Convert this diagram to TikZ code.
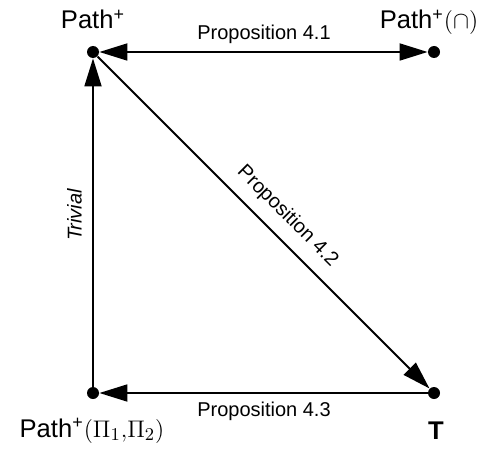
\documentclass[tikz,border=0pt]{standalone}
\usepackage{fontspec}
\setmainfont{Liberation Sans}
\usetikzlibrary{arrows.meta}
\begin{document}
\begin{tikzpicture}[x=0.5pt,y=-0.5pt,
  dot/.style={circle,fill=black,inner sep=0pt,minimum size=6pt},
  edge/.style={line width=0.9pt,-{Triangle[length=14pt,width=8.5pt]}},
  biedge/.style={line width=0.9pt,{Triangle[length=14pt,width=8.5pt]}-{Triangle[length=14pt,width=8.5pt]}},
  vlabel/.style={font=\fontsize{12.8pt}{14pt}\selectfont,inner sep=0pt,anchor=base},
  elabel/.style={font=\fontsize{10pt}{12pt}\selectfont,inner sep=0pt}]
\useasboundingbox (0,0) rectangle (492,449);
\node[dot] (tl) at (93,52) {};
\node[dot] (tr) at (434,52) {};
\node[dot] (bl) at (93,393) {};
\node[dot] (br) at (434,393) {};
\node[vlabel] (ltl) at (93,29) {Path\textsuperscript{+}};
\node[vlabel] (ltr) at (429,29) {Path\textsuperscript{+}$(\cap)$};
\node[vlabel] (lbl) at (92,437) {Path\textsuperscript{+}$(\Pi_1{,}\Pi_2)$};
\node[vlabel,font=\fontsize{12.8pt}{14pt}\selectfont\bfseries] (lbr) at (436,439) {T};
\draw[biedge] (tl) -- (tr);
\draw[edge] (bl) -- (tl);
\draw[edge] (tl) -- (br);
\draw[edge] (br) -- (bl);
\node[elabel,anchor=base] (p41) at (264,40) {Proposition 4.1};
\node[elabel,anchor=base] (p43) at (264,416) {Proposition 4.3};
\node[elabel,rotate=-45] (p42) at (287.5,216.5) {Proposition 4.2};
\node[elabel,rotate=90,font=\fontsize{10pt}{12pt}\selectfont\itshape] (triv) at (74.5,215) {Trivial};
\end{tikzpicture}
\end{document}
